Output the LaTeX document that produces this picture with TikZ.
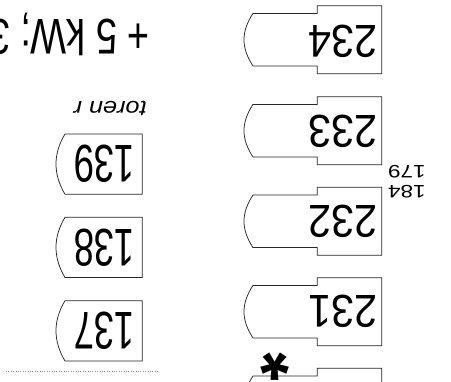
\documentclass[tikz,border=0pt]{standalone}
\usepackage{fontspec}
\setmainfont{Liberation Sans}
\newcommand\rtag[1]{%
  \draw[shp] (317.3,#1) -- (381.7,#1) -- (381.7,#1+68) -- (317.3,#1+68) -- (317.3,#1+60.3)
    -- (253,#1+60.3) .. controls (241,#1+42) and (241,#1+26) .. (253,#1+7.7)
    -- (317.3,#1+7.7) -- cycle;}
\newcommand\ltag[1]{%
  \draw[shp] (142.3,#1) -- (142.3,#1+60.3) -- (65,#1+60.3)
    .. controls (53,#1+40) and (53,#1+20) .. (65,#1) -- cycle;}
\begin{document}
\begin{tikzpicture}[x=1pt,y=-1pt,
  shp/.style={draw=black!85, line width=0.75pt, fill=white},
  bignum/.style={rotate=180, inner sep=0, font=\fontsize{46}{46}\selectfont, xscale=0.9},
  leftnum/.style={rotate=180, inner sep=0, font=\fontsize{53}{53}\selectfont, xscale=0.69},
  smallnum/.style={rotate=180, inner sep=0, font=\fontsize{18}{18}\selectfont, xscale=1.25},
  note/.style={rotate=180, inner sep=0}]
\fill[white] (0,0) rectangle (451,382);
\clip (0,0) rectangle (451,382);
% right column tags
\rtag{5.7}
\rtag{96.7}
\rtag{187.3}
\rtag{277.7}
\rtag{368.3}
\node[bignum] (n234) at (343.3,41) {234};
\node[bignum] (n233) at (343.3,131) {233};
\node[bignum] (n232) at (343.3,221) {232};
\node[bignum] (n231) at (342.5,311) {231};
% left column tags
\ltag{134}
\ltag{217.3}
\ltag{300.7}
\node[leftnum] (n139) at (104.4,164) {139};
\node[leftnum] (n138) at (104.4,247.3) {138};
\node[leftnum] (n137) at (104.4,330.7) {137};
% small labels
\node[smallnum] (n179) at (406.9,171.5) {179};
\node[smallnum] (n184) at (406.9,191.7) {184};
% texts
\node[note, anchor=base west, font=\fontsize{38}{38}\selectfont, yscale=1.32] (pw) at (150,20) {+ 5 kW; 3};
\node[note, anchor=base west, font=\fontsize{22}{22}\selectfont\itshape, xscale=1.15] (tr) at (147,102) {toren r};
\node[note, anchor=base west, font=\fontsize{74}{74}\selectfont\bfseries] (ast) at (289.4,330) {*};
% dotted rule
\coordinate (d1) at (6,371.7);
\coordinate (d2) at (158,371.7);
\draw[black!40, line width=0.7pt, dash pattern=on 0.8pt off 1.6pt] (d1) -- (d2);
\end{tikzpicture}
\end{document}
